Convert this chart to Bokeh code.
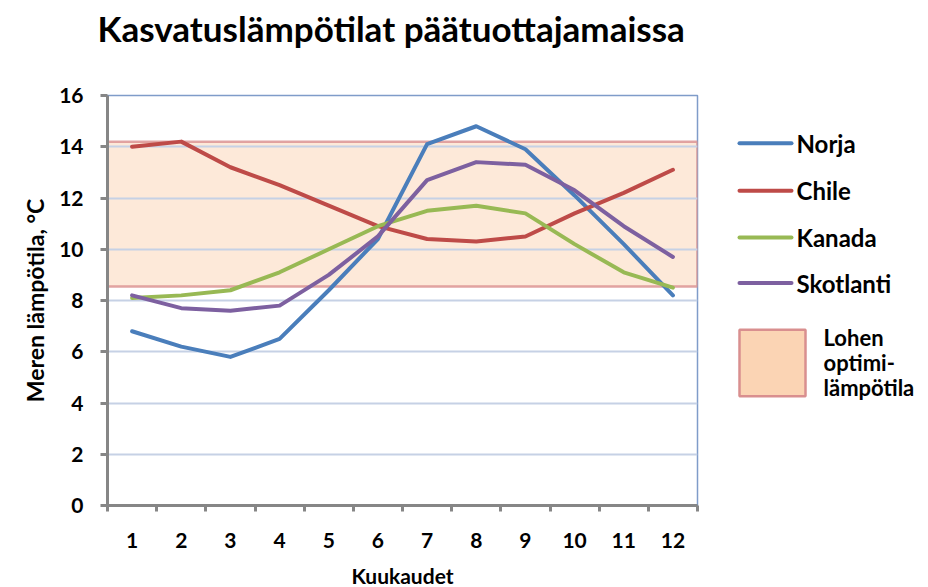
from bokeh.plotting import figure
from bokeh.models import FixedTicker, Range1d, Title
from bokeh.layouts import row
from bokeh.core.properties import value
from bokeh.embed import file_html
from bokeh.resources import INLINE

# ---- data ----
months = [1, 2, 3, 4, 5, 6, 7, 8, 9, 10, 11, 12]
norja = [6.8, 6.2, 5.8, 6.5, 8.4, 10.4, 14.1, 14.8, 13.9, 12.1, 10.2, 8.2]
chile = [14.0, 14.2, 13.2, 12.5, 11.7, 10.9, 10.4, 10.3, 10.5, 11.4, 12.2, 13.1]
kanada = [8.1, 8.2, 8.4, 9.1, 10.0, 10.9, 11.5, 11.7, 11.4, 10.2, 9.1, 8.5]
skotlanti = [8.2, 7.7, 7.6, 7.8, 9.0, 10.5, 12.7, 13.4, 13.3, 12.3, 10.9, 9.7]
series_names = ["Norja", "Chile", "Kanada", "Skotlanti"]
optimum_low = 8.55
optimum_high = 14.2
optimum_label = ["Lohen", "optimi-", "lämpötila"]
y_ticks = [0, 2, 4, 6, 8, 10, 12, 14, 16]
title_text = "Kasvatuslämpötilat päätuottajamaissa"
x_label = "Kuukaudet"
y_label = "Meren lämpötila, °C"

colors = ["#4a7ebb", "#be4b48", "#98b954", "#7d60a0"]
FONT = "Lato"
AXIS_GRAY = "#868686"

p = figure(frame_width=590, frame_height=410, title=None,
           x_range=Range1d(0.5, 12.5), y_range=Range1d(0, 16),
           output_backend="svg", toolbar_location=None,
           min_border_left=107, min_border_right=11,
           min_border_top=95, min_border_bottom=82,
           background_fill_color="white", border_fill_color="white")

p.outline_line_color = "#7f9cc9"
p.outline_line_width = 1.5

# title: a spacer next to the frame, then the real title above it
p.add_layout(Title(text=" ", text_font_size="10px", standoff=34), "above")
p.add_layout(Title(text=title_text, align="left", offset=-10, vertical_align="bottom",
                   standoff=0, text_font=FONT, text_font_style="bold",
                   text_font_size="35px", text_color="black"), "above")

# optimum band (under the gridlines)
band = p.quad(left=[0.5], right=[12.5], bottom=[optimum_low], top=[optimum_high],
              fill_color="#fbd4b4", fill_alpha=0.5,
              line_color="#d98f8f", line_alpha=0.8, line_width=2.5)
band.level = "image"

# grid
p.xgrid.visible = False
p.ygrid.ticker = FixedTicker(ticks=y_ticks)
p.ygrid.grid_line_color = "#c6d1e5"
p.ygrid.grid_line_width = 2

# lines
for vals, c in zip([norja, chile, kanada, skotlanti], colors):
    p.line(months, vals, line_color=c, line_width=4, line_join="round", line_cap="round")

# axes
p.xaxis.ticker = FixedTicker(ticks=months, minor_ticks=[m - 0.5 for m in months] + [12.5])
p.yaxis.ticker = FixedTicker(ticks=y_ticks)
for ax in (p.xaxis, p.yaxis):
    ax.axis_line_color = AXIS_GRAY
    ax.axis_line_width = 3
    ax.major_label_text_font = FONT
    ax.major_label_text_font_style = "bold"
    ax.major_label_text_font_size = "21px"
    ax.major_label_text_color = "black"
    ax.axis_label_text_font = FONT
    ax.axis_label_text_font_style = "bold"
    ax.axis_label_text_color = "black"
    ax.major_tick_in = 0

p.xaxis.major_tick_out = 0
p.xaxis.minor_tick_in = 0
p.xaxis.minor_tick_out = 6
p.xaxis.minor_tick_line_width = 3
p.xaxis.minor_tick_line_color = AXIS_GRAY
p.xaxis.major_label_standoff = 21
p.xaxis.axis_label = x_label
p.xaxis.axis_label_text_font_size = "21px"
p.xaxis.axis_label_standoff = 12

p.yaxis.major_tick_out = 7
p.yaxis.major_tick_line_width = 3
p.yaxis.major_tick_line_color = AXIS_GRAY
p.yaxis.minor_tick_line_color = None
p.yaxis.major_label_standoff = 17
p.yaxis.axis_label = y_label
p.yaxis.axis_label_text_font_size = "23px"
p.yaxis.axis_label_standoff = 7

# ---- legend panel (data units = page pixels) ----
lg = figure(width=220, height=587, x_range=Range1d(0, 220), y_range=Range1d(505, 95),
            output_backend="svg", toolbar_location=None,
            x_axis_type=None, y_axis_type=None,
            min_border_left=0, min_border_right=0, min_border_top=95, min_border_bottom=82,
            background_fill_color="white", border_fill_color="white")
lg.grid.visible = False
lg.outline_line_color = None

legend_y = [143, 191, 238, 284]
for name, c, ly in zip(series_names, colors, legend_y):
    lg.line([31, 83], [ly, ly], line_color=c, line_width=4, line_cap="round")
lg.text(x=[88] * 4, y=legend_y, text=series_names, text_font=value(FONT),
        text_font_style="bold", text_font_size="24px", text_baseline="middle",
        text_color="black")

lg.quad(left=[31], right=[97], top=[331], bottom=[398], fill_color="#fbd4b4",
        line_color="#d98f8f", line_width=2.5)
lg.text(x=[115] * 3, y=[339, 364, 389], text=optimum_label, text_font=value(FONT),
        text_font_style="bold", text_font_size="22px", text_baseline="middle",
        text_color="black")

layout = row(p, lg)
open("out.html", "w").write(file_html(layout, INLINE))
